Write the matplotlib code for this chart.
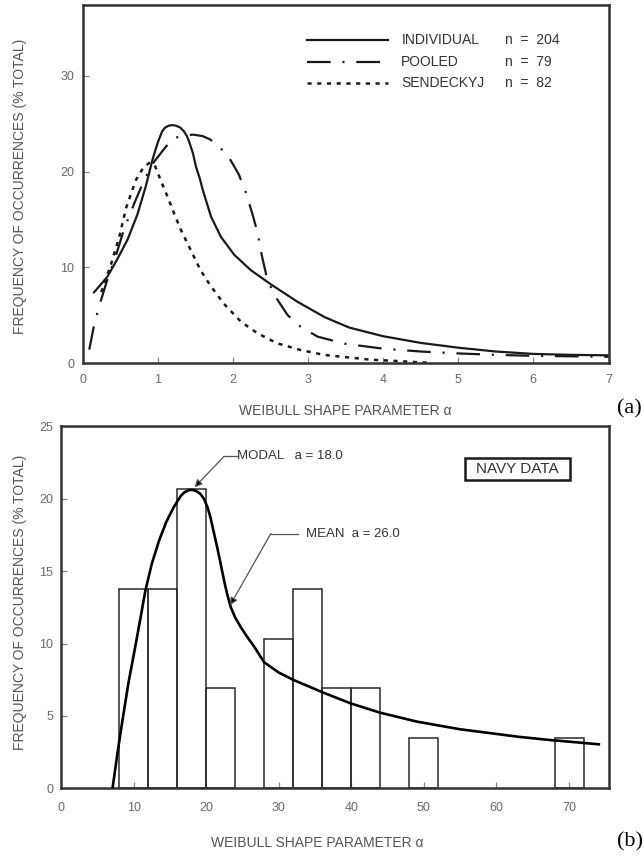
import matplotlib
matplotlib.use("Agg")
import matplotlib.pyplot as plt
from matplotlib.patches import Rectangle

plt.rcParams['font.family'] = ['Liberation Sans', 'DejaVu Sans']
plt.rcParams['lines.scale_dashes'] = False

# ---------------- data: panel (a) ----------------
ind_x = [0.15, 0.33, 0.46, 0.60, 0.73, 0.84, 0.93, 1.00, 1.06, 1.10, 1.15, 1.19, 1.24, 1.30,
         1.35, 1.39, 1.42, 1.47, 1.51, 1.56, 1.60, 1.71, 1.84, 2.02, 2.24, 2.51, 2.86, 3.22,
         3.55, 4.0, 4.5, 5.0, 5.5, 6.0, 6.5, 7.0]
ind_y = [7.35, 9.0, 10.8, 12.9, 15.5, 18.4, 21.2, 23.0, 24.2, 24.6, 24.8, 24.85, 24.8, 24.6,
         24.2, 23.7, 23.1, 21.9, 20.5, 19.3, 18.1, 15.3, 13.2, 11.3, 9.7, 8.2, 6.4, 4.8,
         3.7, 2.8, 2.1, 1.6, 1.2, 0.95, 0.85, 0.8]

pool_x = [0.09, 0.15, 0.22, 0.33, 0.44, 0.55, 0.69, 0.82, 0.95, 1.11, 1.22, 1.37, 1.48, 1.60,
          1.70, 1.80, 1.90, 1.97, 2.08, 2.17, 2.26, 2.33, 2.39, 2.46, 2.57, 2.73, 2.90,
          3.13, 3.5, 4.0, 4.5, 5.0, 5.5, 6.0, 7.0]
pool_y = [1.4, 3.8, 5.9, 8.7, 11.1, 13.9, 16.7, 19.1, 21.0, 22.6, 23.5, 23.8, 23.85, 23.7,
          23.35, 22.8, 21.9, 21.2, 19.7, 17.9, 15.6, 13.6, 11.1, 8.7, 6.9, 5.0, 3.8,
          2.75, 2.0, 1.5, 1.2, 1.0, 0.85, 0.75, 0.65]

send_x = [0.25, 0.375, 0.49, 0.58, 0.71, 0.80, 0.885, 0.96, 1.04, 1.13, 1.22, 1.31, 1.44,
          1.57, 1.71, 1.88, 2.11, 2.33, 2.59, 2.90, 3.22, 3.83, 4.2, 4.65]
send_y = [7.4, 10.2, 13.2, 16.2, 19.1, 20.3, 20.9, 20.7, 19.1, 17.4, 15.6, 13.9, 11.8,
          9.7, 8.0, 6.2, 4.3, 3.1, 2.06, 1.36, 0.84, 0.35, 0.2, 0.0]

series_names = ['INDIVIDUAL', 'POOLED', 'SENDECKYJ']
series_n = [204, 79, 82]

# ---------------- data: panel (b) ----------------
bin_left = [8, 12, 16, 20, 28, 32, 36, 40, 48, 68]
bin_width = 4
bin_pct = [13.8, 13.8, 20.7, 6.9, 10.3, 13.8, 6.9, 6.9, 3.45, 3.45]

fit_x = [7.1, 7.8, 8.5, 9.3, 10.2, 11.0, 11.6, 12.5, 13.5, 14.5, 15.5, 16.5, 17.0, 17.6,
         18.1, 18.6, 19.2, 19.7, 20.2, 20.6, 21.0, 21.5, 22.0, 22.45, 22.9, 23.4, 24.0,
         24.75, 25.6, 26.6, 28.0, 30.0, 32.1, 36.2, 39.9, 44.0, 49.1, 55.1, 58.4, 63.0,
         67.5, 71.2, 74.1]
fit_y = [0.0, 2.5, 4.8, 7.3, 9.7, 11.9, 13.6, 15.5, 17.1, 18.4, 19.4, 20.2, 20.45, 20.6,
         20.62, 20.55, 20.35, 20.0, 19.4, 18.7, 17.8, 16.7, 15.5, 14.4, 13.4, 12.5, 11.8,
         11.15, 10.5, 9.8, 8.7, 8.0, 7.47, 6.6, 5.87, 5.22, 4.6, 4.07, 3.86, 3.56,
         3.33, 3.17, 3.04]

modal_a = 18.0
mean_a = 26.0

# ---------------- styling ----------------
TICK_C = '#6a6a6a'
LABEL_C = '#555555'
TEXT_C = '#333333'
SPINE_C = '#333333'

fig = plt.figure(figsize=(6.44, 8.56), dpi=100)
W, H = 644.0, 856.0


def style_axes(ax, xpad, ypad):
    for s in ax.spines.values():
        s.set_linewidth(1.8)
        s.set_color(SPINE_C)
    ax.tick_params(axis='both', direction='in', length=4, width=0.9, color='#888888',
                   labelsize=9, labelcolor=TICK_C)
    ax.tick_params(axis='x', pad=xpad)
    ax.tick_params(axis='y', pad=ypad)


# ---------------- panel (a) ----------------
ax1 = fig.add_axes([82.5 / W, 1 - 363 / H, 526 / W, 358 / H])
ax1.plot(ind_x, ind_y, color='#1a1a1a', lw=1.6, solid_capstyle='round',
         solid_joinstyle='round')
ax1.plot(pool_x, pool_y, color='#1a1a1a', lw=1.6, dashes=(17, 8.5, 1.5, 8.5))
ax1.plot(send_x, send_y, color='#1a1a1a', lw=1.8, dashes=(3, 4))
ax1.set_xlim(0, 7)
ax1.set_ylim(0, 37.4)
ax1.set_xticks(range(0, 8))
ax1.set_yticks([0, 10, 20, 30])
style_axes(ax1, xpad=8, ypad=6)

# manual legend (a)
styles = [dict(lw=1.6), dict(lw=1.6, dashes=(17, 8.5, 1.5, 8.5)), dict(lw=1.8, dashes=(3, 4))]
rows = [0.901, 0.842, 0.781]
for name, n, st, ry in zip(series_names, series_n, styles, rows):
    ax1.plot([0.426, 0.581], [ry, ry], transform=ax1.transAxes, color='#1a1a1a', **st)
    ax1.text(0.606, ry, name, transform=ax1.transAxes, fontsize=10, color=TEXT_C,
             va='center', ha='left')
    ax1.text(0.804, ry, f'n  =  {n}', transform=ax1.transAxes, fontsize=10, color=TEXT_C,
             va='center', ha='left')

fig.text(20 / W, 1 - 186.5 / H, 'FREQUENCY OF OCCURRENCES (% TOTAL)', rotation=90,
         ha='center', va='center', fontsize=10, color=LABEL_C)
fig.text(345.5 / W, 1 - 411 / H, 'WEIBULL SHAPE PARAMETER α', ha='center', va='center',
         fontsize=10, color=LABEL_C)
fig.text(617 / W, 1 - 409 / H, '(a)', ha='left', va='center', fontsize=16,
         family='Liberation Serif', color='black')

# ---------------- panel (b) ----------------
ax2 = fig.add_axes([61 / W, 1 - 788.3 / H, 548 / W, 361.8 / H])
ax2.bar(bin_left, bin_pct, width=bin_width, align='edge', facecolor='none',
        edgecolor='#2a2a2a', linewidth=1.1, zorder=2)
ax2.plot(fit_x, fit_y, color='black', lw=1.9, zorder=3, solid_joinstyle='round')
ax2.set_xlim(0, 75.5)
ax2.set_ylim(0, 25)
ax2.set_xticks(range(0, 80, 10))
ax2.set_yticks([0, 5, 10, 15, 20, 25])
style_axes(ax2, xpad=10, ypad=5.5)

# annotations
ax2.plot([22.45, 24.2], [22.93, 22.93], color='#555555', lw=0.9)
ax2.annotate('', xy=(modal_a + 0.4, 20.8), xytext=(22.45, 22.93),
             arrowprops=dict(arrowstyle='-|>', ec='#555555', fc='black', lw=0.9,
                             mutation_scale=11, shrinkA=0, shrinkB=0))
ax2.text(24.2, 22.93, f'MODAL   a = {modal_a:.1f}', fontsize=9.5, color=TEXT_C,
         ha='left', va='center')

ax2.plot([28.9, 32.6], [17.6, 17.6], color='#555555', lw=0.9)
ax2.annotate('', xy=(23.3, 12.65), xytext=(28.9, 17.6),
             arrowprops=dict(arrowstyle='-|>', ec='#555555', fc='black', lw=0.9,
                             mutation_scale=11, shrinkA=0, shrinkB=0))
ax2.text(33.7, 17.6, f'MEAN  a = {mean_a:.1f}', fontsize=9.5, color=TEXT_C,
         ha='left', va='center')

ax2.add_patch(Rectangle((55.6, 21.33), 14.5, 1.51, facecolor='white', edgecolor='#1a1a1a',
                        linewidth=1.8, zorder=4))
ax2.text(62.85, 22.07, 'NAVY DATA', fontsize=11, color=TEXT_C, ha='center', va='center',
         zorder=5)

fig.text(20 / W, 1 - 602.5 / H, 'FREQUENCY OF OCCURRENCES (% TOTAL)', rotation=90,
         ha='center', va='center', fontsize=10, color=LABEL_C)
fig.text(317 / W, 1 - 843 / H, 'WEIBULL SHAPE PARAMETER α', ha='center', va='center',
         fontsize=10, color=LABEL_C)
fig.text(617 / W, 1 - 842 / H, '(b)', ha='left', va='center', fontsize=16,
         family='Liberation Serif', color='black')

fig.savefig('out.png', dpi=100, facecolor='white')
